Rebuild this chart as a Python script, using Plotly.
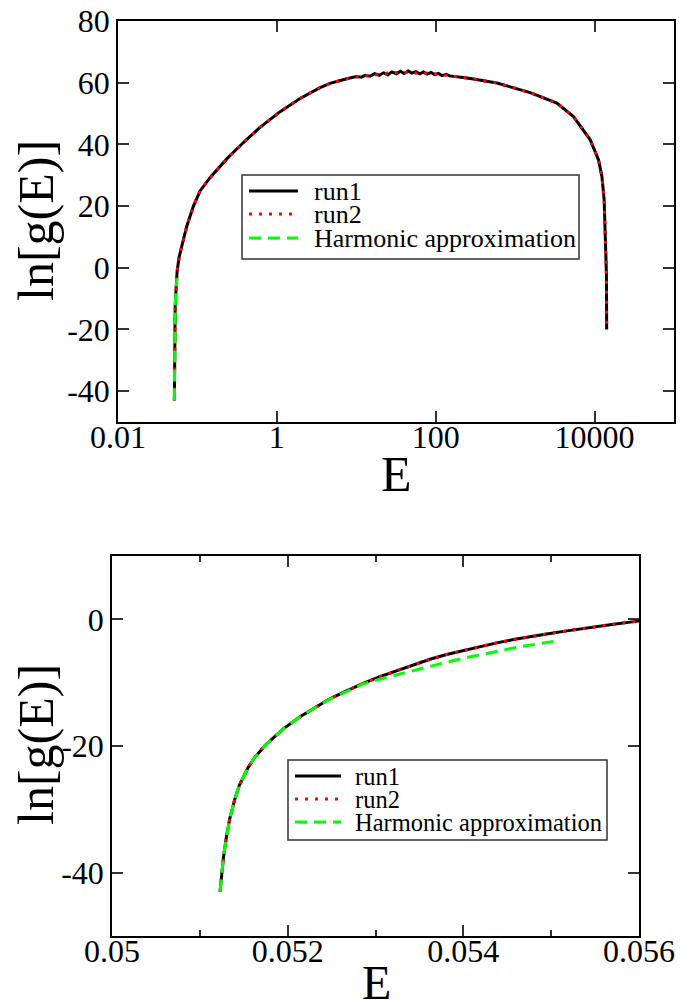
import plotly.graph_objects as go

# ---------------- data ----------------
E_run1 = [0.05123, 0.05125, 0.05127, 0.05130, 0.05134, 0.05140, 0.05145, 0.05155, 0.05162,
          0.05175, 0.05195, 0.05215, 0.05233, 0.05248, 0.05267, 0.05286, 0.05305, 0.05325,
          0.05343, 0.05362, 0.05381, 0.05400, 0.05419, 0.05438, 0.05457, 0.05476, 0.05495,
          0.05514, 0.05533, 0.05552, 0.05571, 0.05590, 0.05600,
          0.0590, 0.0634, 0.0733, 0.0888, 0.108, 0.144, 0.234, 0.379, 0.614, 1.10, 1.96,
          3.50, 4.67, 7.59,
          10, 11.5, 13, 15, 17, 19.5, 22, 25, 28, 32, 36, 40, 45, 50, 56, 63, 70, 78, 87,
          97, 108, 120, 135, 150, 180, 220,
          299, 589, 1545, 3350, 5430, 8810, 11200, 12370, 13200, 13700, 14000, 14100,
          14150, 14200]
lnG_run1 = [-43.0, -40.0, -37.5, -34.6, -31.5, -28.3, -26.2, -23.4, -21.9,
            -19.8, -17.3, -15.3, -13.8, -12.55, -11.3, -10.1, -9.05, -8.05,
            -7.15, -6.3, -5.55, -4.9, -4.3, -3.72, -3.2, -2.72, -2.3,
            -1.9, -1.5, -1.12, -0.77, -0.44, -0.28,
            3.6, 6.9, 13.4, 19.9, 24.9, 29.2, 35.3, 40.6, 45.5, 50.6, 54.9,
            58.4, 59.8, 61.3,
            62.0, 61.8, 62.4, 62.1, 62.9, 62.4, 63.2, 62.6, 63.5, 62.9, 63.7, 63.0, 63.8,
            63.1, 63.6, 62.9, 63.5, 62.8, 63.3, 62.6, 63.0, 62.3, 62.7, 62.2, 62.0, 61.7,
            61.2, 59.9, 56.8, 53.4, 49.0, 41.5, 35.0, 29.6, 22.0, 11.2, 5.8, -2.0,
            -11.0, -20.0]

E_run2 = [0.05123, 0.05125, 0.05127, 0.05130, 0.05134, 0.05140, 0.05145, 0.05155, 0.05162,
          0.05175, 0.05195, 0.05215, 0.05233, 0.05248, 0.05267, 0.05286, 0.05305, 0.05325,
          0.05343, 0.05362, 0.05381, 0.05400, 0.05419, 0.05438, 0.05457, 0.05476, 0.05495,
          0.05514, 0.05533, 0.05552, 0.05571, 0.05590, 0.05600,
          0.0590, 0.0634, 0.0733, 0.0888, 0.108, 0.144, 0.234, 0.379, 0.614, 1.10, 1.96,
          3.50, 4.67, 7.59,
          10, 11.5, 13, 15, 17, 19.5, 22, 25, 28, 32, 36, 40, 45, 50, 56, 63, 70, 78, 87,
          97, 108, 120, 135, 150, 180, 220,
          299, 589, 1545, 3350, 5430, 8810, 11200, 12370, 13200, 13700, 14000, 14100,
          14150, 14200]
lnG_run2 = [-43.0, -40.0, -37.5, -34.6, -31.5, -28.3, -26.2, -23.4, -21.9,
            -19.8, -17.3, -15.3, -13.8, -12.55, -11.3, -10.1, -9.05, -8.05,
            -7.15, -6.3, -5.55, -4.9, -4.3, -3.72, -3.2, -2.72, -2.3,
            -1.9, -1.5, -1.12, -0.77, -0.44, -0.28,
            3.6, 6.9, 13.4, 19.9, 24.9, 29.2, 35.3, 40.6, 45.5, 50.6, 54.9,
            58.4, 59.8, 61.3,
            61.9, 62.2, 62.1, 62.5, 62.4, 62.8, 62.7, 63.1, 62.9, 63.3, 63.1, 63.4, 63.2,
            63.4, 63.1, 63.3, 63.0, 63.1, 62.8, 62.9, 62.6, 62.7, 62.4, 62.3, 62.0, 61.7,
            61.2, 59.9, 56.8, 53.4, 49.0, 41.5, 35.0, 29.6, 22.0, 11.2, 5.8, -2.0,
            -11.0, -20.0]

E_harm = [0.05123, 0.05125, 0.05127, 0.05130, 0.05134, 0.05140, 0.05145, 0.05155, 0.05162,
          0.05175, 0.05195, 0.05215, 0.05233, 0.05248, 0.05267, 0.05286, 0.05305, 0.05325,
          0.05343, 0.05362, 0.05381, 0.05400, 0.05419, 0.05438, 0.05457, 0.05476, 0.05495,
          0.05505]
lnG_harm = [-43.0, -40.0, -37.5, -34.6, -31.5, -28.3, -26.2, -23.4, -21.9,
            -19.8, -17.3, -15.3, -13.8, -12.6, -11.4, -10.2, -9.45, -8.72,
            -8.07, -7.4, -6.76, -6.15, -5.57, -5.03, -4.53, -4.07, -3.65,
            -3.44]

series_names = ["run1", "run2", "Harmonic approximation"]

top_xticks = [0.01, 1, 100, 10000]
top_xticktext = ["0.01", "1", "100", "10000"]
top_yticks = [-40, -20, 0, 20, 40, 60, 80]
top_yticktext = ["-40", "-20", "0", "20", "40", "60", "80"]
bot_xticks = [0.05, 0.052, 0.054, 0.056]
bot_xticktext = ["0.05", "0.052", "0.054", "0.056"]
bot_yticks = [-40, -20, 0]
bot_yticktext = ["-40", "-20", "0"]

# ---------------- figure ----------------
W, H = 695, 1004
FONT = "Liberation Serif"


def fx(p):
    return p / W


def fy(p):
    return 1 - p / H


styles = [
    dict(color="black", width=3, dash="solid"),
    dict(color="#ff0000", width=3, dash="3px,7px"),
    dict(color="#00ff00", width=3, dash="12px,7px"),
]
datasets = [(E_run1, lnG_run1), (E_run2, lnG_run2), (E_harm, lnG_harm)]

fig = go.Figure()
for (xa, ya) in [("x", "y"), ("x2", "y2")]:
    for (xs, ys), st, nm in zip(datasets, styles, series_names):
        fig.add_trace(go.Scatter(x=xs, y=ys, mode="lines", name=nm, line=st,
                                 xaxis=xa, yaxis=ya, showlegend=False))

axis_common = dict(showline=True, linecolor="black", linewidth=1.5, mirror="ticks",
                   ticks="inside", ticklen=11, tickwidth=1.5, tickcolor="#333",
                   showgrid=False, zeroline=False, automargin=False,
                   tickfont=dict(family=FONT, size=32, color="black"))

fig.update_layout(
    template="none",
    width=W, height=H, margin=dict(l=0, r=0, t=0, b=0, pad=0),
    paper_bgcolor="white", plot_bgcolor="white",
    xaxis=dict(domain=[fx(118), fx(674)], type="log", range=[-2, 5],
               tickvals=top_xticks, ticktext=top_xticktext, anchor="y",
               ticklabelstandoff=-14, **axis_common),
    yaxis=dict(domain=[fy(422), fy(21)], range=[-50, 80],
               tickvals=top_yticks, ticktext=top_yticktext, anchor="x", **axis_common),
    xaxis2=dict(domain=[fx(112), fx(639)], range=[0.05, 0.056],
                tickvals=bot_xticks, ticktext=bot_xticktext, anchor="y2",
                ticklabelstandoff=-14,
                minor=dict(tickvals=[0.051, 0.053, 0.055], ticks="inside", ticklen=6,
                           tickwidth=1.5, tickcolor="#333"),
                **axis_common),
    yaxis2=dict(domain=[fy(936), fy(556)], range=[-50, 10],
                tickvals=bot_yticks, ticktext=bot_yticktext, anchor="x2", **axis_common),
    showlegend=False,
)

# axis titles
title_font = dict(family=FONT, size=50, color="black")
for (x, y, s) in [(396, 474, 50), (376, 982, 48)]:
    fig.add_annotation(text="E", x=fx(x), y=fy(y), xref="paper", yref="paper",
                       xanchor="center", yanchor="middle", showarrow=False,
                       font=dict(family=FONT, size=s, color="black"))
for (x, y) in [(36, 221), (36, 745)]:
    fig.add_annotation(text="ln[g(E)]", x=fx(x), y=fy(y), xref="paper", yref="paper",
                       xanchor="center", yanchor="middle", showarrow=False,
                       textangle=-90, font=title_font)

# legends (one box per panel)
legend_specs = [
    dict(box=(242, 579, 175, 259), line=(249, 298), text_x=312, rows=(191, 214, 238), size=26),
    dict(box=(288, 607, 760, 840), line=(295, 341), text_x=353, rows=(776, 799, 822), size=24.5),
]
for spec in legend_specs:
    x0, x1, y0, y1 = spec["box"]
    fig.add_shape(type="rect", xref="paper", yref="paper", x0=fx(x0), x1=fx(x1),
                  y0=fy(y1), y1=fy(y0), line=dict(color="#333", width=1.5),
                  fillcolor="white", layer="above")
    for st, nm, ry in zip(styles, series_names, spec["rows"]):
        fig.add_shape(type="line", xref="paper", yref="paper",
                      x0=fx(spec["line"][0]), x1=fx(spec["line"][1]), y0=fy(ry), y1=fy(ry),
                      line=dict(color=st["color"], width=st["width"], dash=st["dash"]),
                      layer="above")
        fig.add_annotation(text=nm, x=fx(spec["text_x"]), y=fy(ry), xref="paper", yref="paper",
                           xanchor="left", yanchor="middle", showarrow=False,
                           font=dict(family=FONT, size=spec["size"], color="black"))

fig.write_html("out.html", config={"displayModeBar": False},
               post_script="document.body.style.margin='0';")
